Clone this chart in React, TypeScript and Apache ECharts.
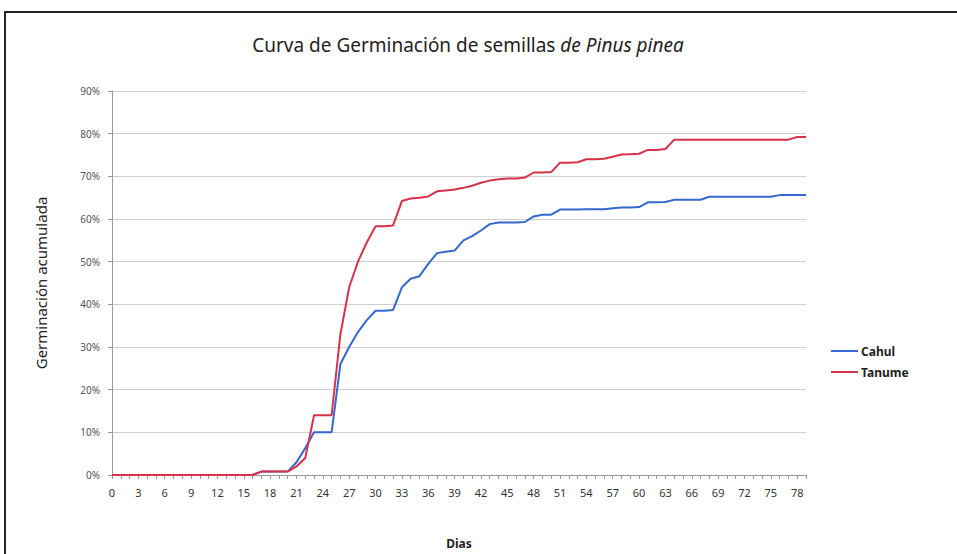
import React, { useEffect, useRef } from "react";
import * as echarts from "echarts";

const days: string[] = Array.from({ length: 80 }, (_, i) => String(i));

const cahul: number[] = [
  0, 0, 0, 0, 0, 0, 0, 0, 0, 0,
  0, 0, 0, 0, 0, 0, 0, 0.8, 0.8, 0.8,
  0.8, 3, 6.3, 10, 10, 10, 26, 30, 33.5, 36.3,
  38.5, 38.5, 38.7, 44, 46, 46.6, 49.5, 52, 52.3, 52.6,
  55, 56, 57.3, 58.8, 59.2, 59.2, 59.2, 59.3, 60.6, 61,
  61, 62.2, 62.2, 62.2, 62.3, 62.3, 62.3, 62.5, 62.7, 62.7,
  62.8, 63.9, 63.9, 64, 64.5, 64.5, 64.5, 64.5, 65.2, 65.2,
  65.2, 65.2, 65.2, 65.2, 65.2, 65.2, 65.6, 65.6, 65.6, 65.6,
];

const tanume: number[] = [
  0, 0, 0, 0, 0, 0, 0, 0, 0, 0,
  0, 0, 0, 0, 0, 0, 0, 0.8, 0.8, 0.8,
  0.8, 2, 4, 14, 14, 14, 33, 44, 50, 54.5,
  58.3, 58.3, 58.5, 64.2, 64.8, 65, 65.3, 66.5, 66.7, 66.9,
  67.3, 67.8, 68.5, 69, 69.3, 69.5, 69.5, 69.7, 70.9, 70.9,
  71, 73.2, 73.2, 73.3, 74, 74, 74.1, 74.6, 75.1, 75.2,
  75.3, 76.2, 76.2, 76.4, 78.6, 78.6, 78.6, 78.6, 78.6, 78.6,
  78.6, 78.6, 78.6, 78.6, 78.6, 78.6, 78.6, 78.6, 79.2, 79.2,
];

const seriesNames = ["Cahul", "Tanume"];
const colors = ["#3467cf", "#d8314a"];

export default function App() {
  const ref = useRef<HTMLDivElement>(null);
  useEffect(() => {
    if (!ref.current) return;
    const chart = echarts.init(ref.current, null, { renderer: "svg" });
    const font = "'Noto Sans', sans-serif";
    chart.setOption({
      animation: false,
      backgroundColor: "#ffffff",
      textStyle: { fontFamily: font },
      graphic: [
        {
          type: "rect",
          shape: { x: 5, y: 12, width: 1000, height: 600 },
          style: { fill: "none", stroke: "#222", lineWidth: 2 },
          silent: true,
        },
      ],
      title: {
        text: "{a|Curva de Germinación de semillas }{b|de Pinus pinea}",
        left: 463,
        textAlign: "center",
        top: 30,
        textStyle: {
          fontWeight: "normal",
          rich: {
            a: { fontSize: 19, color: "#222", fontWeight: "normal", fontFamily: font },
            b: { fontSize: 19, color: "#222", fontWeight: "normal", fontStyle: "italic", fontFamily: font },
          },
        },
      },
      legend: {
        orient: "vertical",
        left: 826,
        top: 340,
        icon: "rect",
        itemWidth: 27,
        itemHeight: 2,
        itemGap: 9,
        data: seriesNames,
        textStyle: { fontSize: 12, color: "#222", fontWeight: "bold", fontFamily: font, padding: [0, 0, 0, -2] },
      },
      grid: { left: 112, right: 151, top: 91, bottom: 77, containLabel: false },
      xAxis: {
        type: "category",
        data: days,
        boundaryGap: false,
        name: "Dias",
        nameLocation: "middle",
        nameGap: 62,
        nameTextStyle: { fontSize: 12, fontWeight: "bold", color: "#222" },
        axisLine: { lineStyle: { color: "#999" } },
        axisTick: { show: true, interval: 0, length: 4, lineStyle: { color: "#999" } },
        axisLabel: { interval: 2, fontSize: 11, color: "#333", margin: 12 },
      },
      yAxis: {
        type: "value",
        min: 0,
        max: 90,
        interval: 10,
        name: "Germinación acumulada",
        nameLocation: "middle",
        nameGap: 64,
        nameTextStyle: { fontSize: 15, color: "#222" },
        axisLine: { show: true, lineStyle: { color: "#999" } },
        axisTick: { show: true, length: 4, lineStyle: { color: "#999" } },
        axisLabel: { formatter: "{value}%", fontSize: 10, color: "#555", margin: 12 },
        splitLine: { lineStyle: { color: "#cfcfcf" } },
      },
      series: [
        {
          name: seriesNames[0],
          type: "line",
          data: cahul,
          showSymbol: false,
          symbol: "none",
          lineStyle: { width: 2, color: colors[0] },
          itemStyle: { color: colors[0] },
        },
        {
          name: seriesNames[1],
          type: "line",
          data: tanume,
          showSymbol: false,
          symbol: "none",
          lineStyle: { width: 2, color: colors[1] },
          itemStyle: { color: colors[1] },
        },
      ],
    });
    return () => chart.dispose();
  }, []);
  return (
    <div
      ref={ref}
      style={{ position: "fixed", left: 0, top: 0, width: 957, height: 554 }}
    />
  );
}
